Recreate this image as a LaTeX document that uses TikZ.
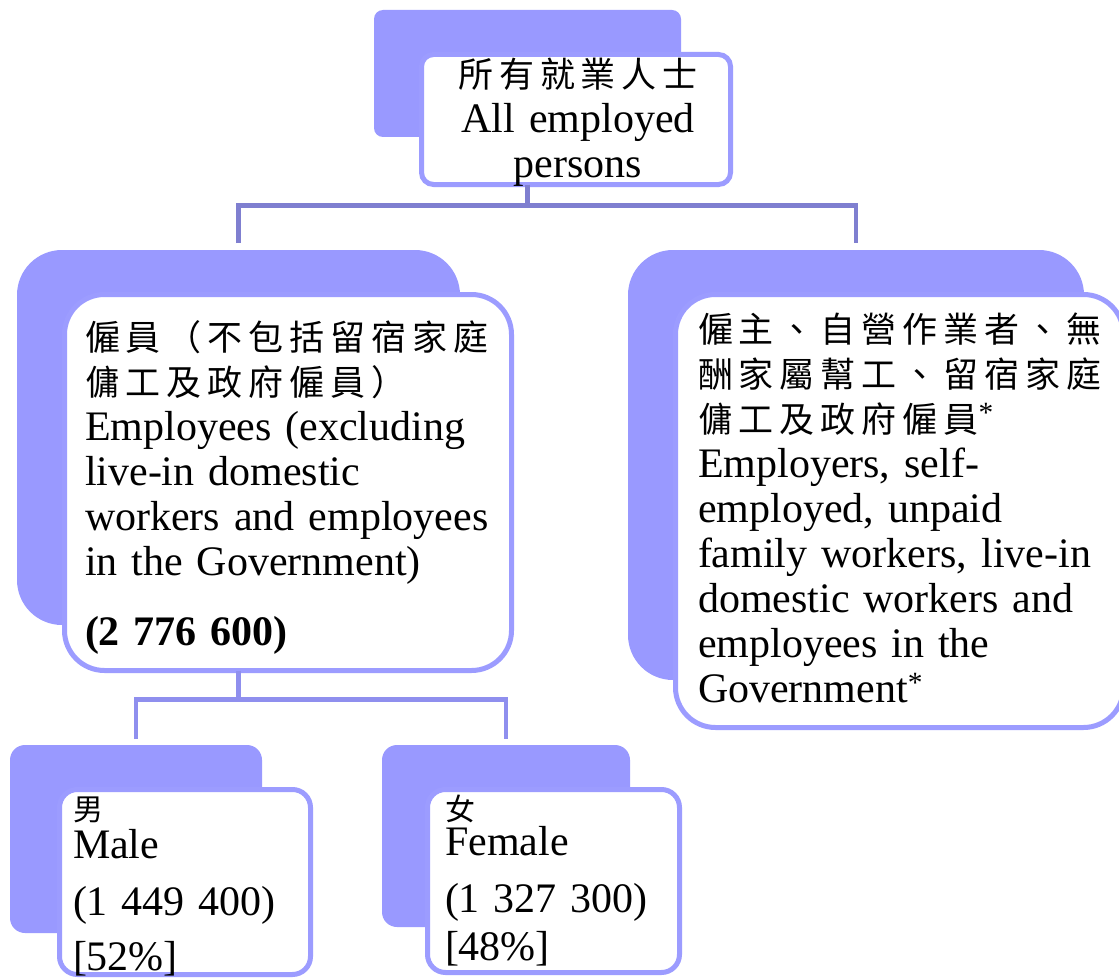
\documentclass[tikz,border=0pt]{standalone}
\usepackage{fontspec}
\setmainfont{Liberation Serif}
\newfontfamily\cjk{Noto Sans CJK TC}[LetterSpace=17]
\newfontfamily\cjkplain{Noto Sans CJK TC}
\newcommand\zh[1]{{\cjk\fontsize{35}{45}\selectfont #1}}
\newcommand\zhone[1]{{\cjkplain\fontsize{30}{45}\selectfont #1}}
\definecolor{backc}{HTML}{9999FF}
\definecolor{framec}{HTML}{9C9CFF}
\definecolor{connA}{HTML}{7F7FD0}
\definecolor{connB}{HTML}{8F8FEE}
\begin{document}
\begin{tikzpicture}[x=1pt,y=-1pt,
  backbox/.style={fill=backc, draw=none, inner sep=0pt, outer sep=0pt, anchor=north west},
  frontbox/.style={fill=white, draw=framec, line width=5pt, inner sep=0pt, outer sep=0pt, anchor=north west},
  txt/.style={inner sep=0pt, outer sep=0pt, font=\fontsize{42}{45}\selectfont, text=black},
  connAline/.style={draw=connA, line width=4.5pt},
  connBline/.style={draw=connB, line width=4.5pt}]
\useasboundingbox (0,0) rectangle (1119,979);
\fill[white] (0,0) rectangle (1119,979);

% top
\node[backbox, rounded corners=9pt, minimum width=307pt, minimum height=127pt] (topback) at (374,10) {};
\node[frontbox, rounded corners=12pt, minimum width=309pt, minimum height=130pt] (topfront) at (421.5,54.5) {};
\node[txt, anchor=north, align=center, text width=320pt] (toptext) at (578,58)
  {\zh{\rule{0pt}{30pt}所有就業人士}\\All employed\\persons};

% middle left
\node[backbox, rounded corners=45pt, minimum width=443pt, minimum height=375pt] (midLback) at (17,250) {};
\node[frontbox, rounded corners=40pt, minimum width=447pt, minimum height=376pt] (midLfront) at (64.5,294.5) {};
\node[txt, anchor=north west, align=left, text width=440pt] (midLtext) at (85,320)
  {\zh{\rule{0pt}{30pt}僱員（不包括留宿家庭}\\\zh{傭工及政府僱員）}\\Employees (excluding\\live-in domestic\\workers and employees\\in the Government)\\[25pt]\textbf{(2 776 600)}};

% middle right
\node[backbox, rounded corners=45pt, minimum width=456pt, minimum height=430pt] (midRback) at (628,250) {};
\node[frontbox, rounded corners=40pt, minimum width=448pt, minimum height=433pt] (midRfront) at (675.5,294.5) {};
\node[txt, anchor=north west, align=left, text width=430pt] (midRtext) at (698,312)
  {\zh{\rule{0pt}{30pt}僱主、自營作業者、無}\\\zh{酬家屬幫工、留宿家庭}\\\zh{傭工及政府僱員}\textsuperscript{*}\\Employers, self-\\employed, unpaid\\family workers, live-in\\domestic workers and\\employees in the\\Government\textsuperscript{*}};

% bottom left
\node[backbox, rounded corners=15pt, minimum width=252pt, minimum height=188pt] (botLback) at (10,745) {};
\node[frontbox, rounded corners=18pt, minimum width=251pt, minimum height=185pt] (botLfront) at (59.5,789.5) {};
\node[txt, anchor=north west, align=left, text width=235pt] (botLtext) at (73,794)
  {\zhone{\rule{0pt}{26pt}男}\\[-7pt]Male\\[12pt](1 449 400)\\[10pt]{[52\%]}};

% bottom right
\node[backbox, rounded corners=15pt, minimum width=248pt, minimum height=182pt] (botRback) at (382,745) {};
\node[frontbox, rounded corners=18pt, minimum width=252pt, minimum height=183pt] (botRfront) at (427.5,789.5) {};
\node[txt, anchor=north west, align=left, text width=235pt] (botRtext) at (445,794)
  {\zhone{\rule{0pt}{26pt}女}\\[-10pt]Female\\[12pt](1 327 300)\\[3pt]{[48\%]}};

% connectors
\coordinate (j1) at ([yshift=-21pt]topfront.south -| topback.south);
\draw[connAline] (topfront.south -| topback.south) -- (j1);
\draw[connAline] ([yshift=7pt]midLback.north) |- (j1) -| ([yshift=7pt]midRback.north);

\coordinate (j2) at ([yshift=-29pt]midLfront.south -| midLback.south);
\draw[connBline] (midLfront.south -| midLback.south) -- (j2);
\draw[connBline] ([yshift=6pt]botLback.north) |- (j2) -| ([yshift=6pt]botRback.north);
\end{tikzpicture}
\end{document}
